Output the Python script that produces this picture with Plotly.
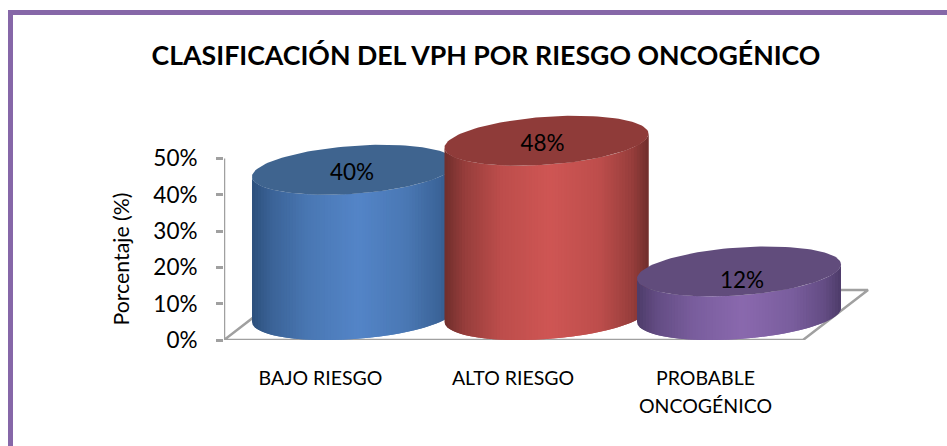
import plotly.graph_objects as go
import numpy as np

# --- data ---
categories = ["BAJO RIESGO", "ALTO RIESGO", "PROBABLE<br>ONCOGÉNICO"]
values = [40, 48, 12]
y_ticks = [0, 10, 20, 30, 40, 50]
y_tick_labels = ["0%", "10%", "20%", "30%", "40%", "50%"]
title_text = "CLASIFICACIÓN DEL VPH POR RIESGO ONCOGÉNICO"
y_title = "Porcentaje (%)"

# --- style ---
top_colors = ["#3F648F", "#8F3B39", "#614C7C"]
edge_colors = [(45, 80, 125), (112, 46, 44), (78, 60, 106)]
mid_colors = [(74, 120, 180), (190, 78, 76), (122, 94, 158)]
peak_colors = [(84, 133, 200), (207, 86, 84), (138, 105, 174)]
label_dx_px = [-2, -4, 3]
label_dy_px = [5, 5, 11]
W, H = 947, 446
PX_X = 192.5      # pixels per category
PX_Y = 3.63       # pixels per percent
X0_PX, Y0_PX = 354, 340
PLOT_R_PX, PLOT_T_PX = 885, 100
RX = 102 / PX_X        # cylinder half width
RY = 24 / PX_Y         # ellipse half height
SHEAR = 7 / PX_Y       # ellipse tilt
BASE = 25 / PX_Y       # ellipse centre above the floor
DX, DY = 65 / PX_X, 50 / PX_Y  # floor depth
GRID = "#A0A0A0"
FONT = "Lato, Carlito, sans-serif"


def px2x(p):
    return (p - X0_PX) / PX_X


def curve(cx, cy, t):
    return cx + RX * np.cos(t), cy + RY * np.sin(t) + SHEAR * np.cos(t)


def shade(i, f):
    stops = [0.0, 0.1, 0.28, 0.52, 0.76, 0.92, 1.0]
    e, m, p = edge_colors[i], mid_colors[i], peak_colors[i]
    half = tuple((a + b) / 2 for a, b in zip(e, m))
    cols = [e, half, m, p, m, half, e]
    return "rgb(%d,%d,%d)" % tuple(np.interp(f, stops, [c[k] for c in cols]) for k in range(3))


traces = []
xl, xr = px2x(224), px2x(803)
# floor outline and the y axis line
traces.append(go.Scatter(x=[xl, xl, xl + DX, xr + DX, xr, xl], y=[50, 0, DY, DY, 0, 0], mode="lines",
                         line=dict(color=GRID, width=2.5), hoverinfo="skip", cliponaxis=False))

for i, v in enumerate(values):
    cyb, cyt = BASE, BASE + v
    n = 70
    xs = i - RX + 2 * RX * np.arange(n + 1) / n
    for k in range(n):
        xa, xb = xs[k], min(xs[k + 1] + 2 * RX / n, i + RX)
        ta = np.linspace(np.arccos(np.clip((xa - i) / RX, -1, 1)), np.arccos(np.clip((xb - i) / RX, -1, 1)), 4)
        px_, low = curve(i, cyb, -ta)
        _, up = curve(i, cyt, -ta)
        traces.append(go.Scatter(
            x=np.concatenate([px_, px_[::-1]]), y=np.concatenate([low, up[::-1]]),
            mode="lines", fill="toself", fillcolor=shade(i, (k + .5) / n),
            line=dict(width=0), hoverinfo="skip", cliponaxis=False))
    t = np.linspace(0, 2 * np.pi, 121)
    tx, ty = curve(i, cyt, t)
    traces.append(go.Scatter(x=tx, y=ty, mode="lines", fill="toself", fillcolor=top_colors[i],
                             line=dict(width=0), hoverinfo="skip", cliponaxis=False))

traces.append(go.Scatter(
    x=[i + label_dx_px[i] / PX_X for i in range(len(values))],
    y=[BASE + v - label_dy_px[i] / PX_Y for i, v in enumerate(values)], mode="text",
    text=[f"{v}%" for v in values], textposition="middle center",
    textfont=dict(family=FONT, size=22.5, color="#000000"), hoverinfo="skip", cliponaxis=False))

fig = go.Figure(traces)
label_px = 19.5
fig.update_layout(
    width=W, height=H, showlegend=False, autosize=False,
    paper_bgcolor="#FFFFFF", plot_bgcolor="rgba(0,0,0,0)",
    margin=dict(l=0, r=0, t=0, b=0, autoexpand=False),
    title=dict(text=f"<b>{title_text}</b>", x=486 / W, xanchor="center", y=1 - 56 / H, yanchor="middle",
               font=dict(family=FONT, size=26.7, color="#000000")),
    xaxis=dict(domain=[224 / W, PLOT_R_PX / W], range=[xl, px2x(PLOT_R_PX)], tickmode="array",
               tickvals=[i - DX / 2 - 1 / PX_X for i in range(3)],
               ticktext=[f'<span style="font-size:{label_px}px">{c}</span>' for c in categories],
               tickfont=dict(family=FONT, size=21.5, color="#000000"),
               ticks="outside", ticklen=18, tickcolor="rgba(0,0,0,0)",
               showline=False, showgrid=False, zeroline=False),
    yaxis=dict(domain=[1 - Y0_PX / H, 1 - PLOT_T_PX / H], range=[0, (Y0_PX - PLOT_T_PX) / PX_Y],
               tickmode="array", tickvals=y_ticks, ticktext=y_tick_labels,
               tickfont=dict(family=FONT, size=22.5, color="#000000"),
               ticks="outside", ticklen=7, tickcolor=GRID, tickwidth=2.5, ticklabelstandoff=14,
               showline=False, showgrid=False, zeroline=False),
    annotations=[dict(text=y_title, xref="paper", yref="paper", x=120.5 / W, y=1 - 259 / H,
                      xanchor="center", yanchor="middle", textangle=-90, showarrow=False,
                      font=dict(family=FONT, size=21.3, color="#000000"))],
    shapes=[
        dict(type="rect", xref="paper", yref="paper", x0=8 / W, x1=13 / W, y0=0, y1=1 - 10 / H,
             fillcolor="#8667A8", line=dict(width=0)),
        dict(type="rect", xref="paper", yref="paper", x0=8 / W, x1=1, y0=1 - 15 / H, y1=1 - 10 / H,
             fillcolor="#8667A8", line=dict(width=0)),
    ],
)
fig.write_html("out.html", config={"displayModeBar": False},
               post_script="document.body.style.margin='0';document.documentElement.style.overflow='hidden';")
